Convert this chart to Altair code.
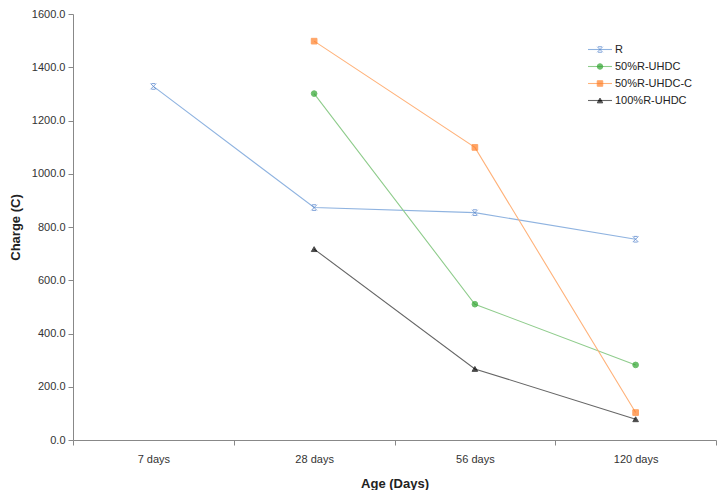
import altair as alt
import pandas as pd

ages = ["7 days", "28 days", "56 days", "120 days"]
series = ["R", "50%R-UHDC", "50%R-UHDC-C", "100%R-UHDC"]
r_vals = [1328, 873, 854, 754]
uhdc50_vals = [None, 1301, 510, 282]
uhdcc50_vals = [None, 1498, 1099, 103]
uhdc100_vals = [None, 717, 267, 78]

line_colors = ["#8fb3e0", "#8fcc8c", "#ffb27a", "#666666"]
marker_colors = ["#4a7cc9", "#2ea42e", "#ff7f27", "#000000"]
star_path = "M-1,-1L1,1M1,-1L-1,1M-0.7,-1L0.7,-1M-0.7,1L0.7,1"
shapes = [star_path, "circle", "square", "triangle-up"]

rows = []
for name, vals in zip(series, [r_vals, uhdc50_vals, uhdcc50_vals, uhdc100_vals]):
    for a, v in zip(ages, vals):
        if v is not None:
            rows.append({"age": a, "series": name, "charge": v})
df = pd.DataFrame(rows)
leg_df = pd.DataFrame({"series": series})

FONT = "Liberation Sans"

x_enc = alt.X(
    "age:N",
    sort=ages,
    scale=alt.Scale(type="band", domain=ages, paddingInner=0, paddingOuter=0),
    axis=alt.Axis(
        title="Age (Days)", tickBand="extent", labelAngle=0, labelPadding=8,
        titlePadding=13, domainColor="#888888", tickColor="#888888", tickSize=5,
    ),
)
y_enc = alt.Y(
    "charge:Q",
    scale=alt.Scale(domain=[0, 1600], nice=False),
    axis=alt.Axis(
        title="Charge (C)", values=list(range(0, 1601, 200)), format=".1f", grid=False,
        domainColor="#888888", tickColor="#888888", tickSize=5, labelPadding=3,
        titlePadding=9,
    ),
)
line_color = alt.Color("series:N", scale=alt.Scale(domain=series, range=line_colors), legend=None)
mk_fill = alt.Fill("series:N", scale=alt.Scale(domain=series, range=marker_colors), legend=None)
mk_stroke = alt.Stroke("series:N", scale=alt.Scale(domain=series, range=marker_colors), legend=None)
mk_shape = alt.Shape("series:N", scale=alt.Scale(domain=series, range=shapes), legend=None)

base = alt.Chart(df)
lines = base.mark_line(strokeWidth=1.1).encode(x=x_enc, y=y_enc, color=line_color, detail="series:N")
points = base.mark_point(filled=True, size=32, strokeWidth=1).encode(
    x=x_enc, y=y_enc, fill=mk_fill, stroke=mk_stroke, shape=mk_shape,
)
main = alt.layer(lines, points)

leg_y = alt.Y("series:N", sort=series, scale=alt.Scale(type="point", domain=series, range=[27, 95]), axis=None)
leg_line = alt.Chart(leg_df).mark_rule(strokeWidth=1.1).encode(
    x=alt.value(515), x2=alt.value(539), y=leg_y, color=line_color
)
leg_pt = alt.Chart(leg_df).mark_point(filled=True, size=30, strokeWidth=1).encode(
    x=alt.value(527), y=leg_y, fill=mk_fill, stroke=mk_stroke, shape=mk_shape,
)
leg_txt = alt.Chart(leg_df).mark_text(align="left", baseline="middle", fontSize=11, font=FONT, color="#222222").encode(
    x=alt.value(542), y=leg_y, text="series:N"
)
legend = alt.layer(leg_line, leg_pt, leg_txt)

chart = alt.layer(main, legend).resolve_scale(y="independent").properties(
    width=643, height=426,
    autosize=alt.AutoSizeParams(type="none"),
    padding={"left": 65, "top": 6, "right": 2, "bottom": 50},
).configure_view(stroke=None).configure_axis(
    labelFont=FONT, titleFont=FONT, labelFontSize=11, titleFontSize=13,
    labelColor="#333333", titleColor="#222222", titleFontWeight="bold",
)

chart.save("out.html", embed_options={"renderer": "svg", "actions": False})
